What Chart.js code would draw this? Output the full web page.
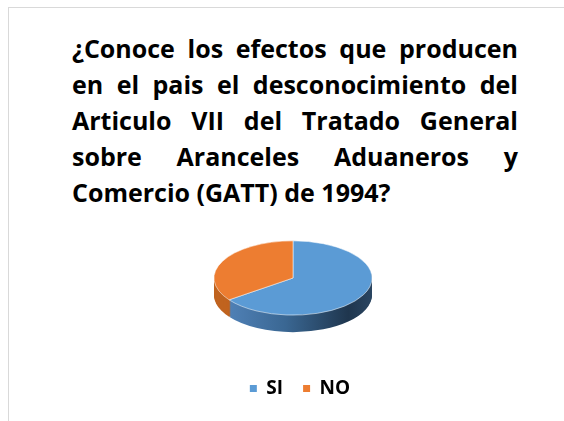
<!DOCTYPE html>
<html>
<head>
<meta charset="utf-8">
<script src="https://cdn.jsdelivr.net/npm/chart.js@4.4.1/dist/chart.umd.min.js"></script>
<style>
  html, body { margin: 0; padding: 0; background: #fff; }
  #wrap { position: relative; width: 564px; height: 421px; overflow: hidden; }
  #frame { position: absolute; left: 8px; top: 7px; width: 700px; height: 600px;
           border-left: 1px solid #d9d9d9; border-top: 1px solid #d9d9d9; }
  #title { position: absolute; left: 72px; top: 30px; width: 446px; color: #000;
           font: bold 25px "Open Sans", sans-serif; line-height: 36px; }
  #title span { display: block; text-align: justify; text-align-last: justify; }
  #title span.last { text-align-last: left; white-space: nowrap; }
  #chart { position: absolute; left: 0; top: 0; }
</style>
</head>
<body>
<div id="wrap">
  <div id="frame"></div>
  <div id="title"></div>
  <canvas id="chart" width="564" height="421"></canvas>
</div>
<script>
const titleLines = [
  '¿Conoce los efectos que producen',
  'en el pais el desconocimiento del',
  'Articulo VII del Tratado General',
  'sobre Aranceles Aduaneros y',
  'Comercio (GATT) de 1994?',
];
const categories = ['SI', 'NO'];
const values = [65, 35];
const colors = ['#5B9BD5', '#ED7D31'];

// fake 3D: squash the pie and extrude a side band under it
const PIE_CX = 293, PIE_CY = 278, TILT = 0.47, DEPTH = 17;

const title = document.getElementById('title');
titleLines.forEach((t, i) => {
  const s = document.createElement('span');
  s.textContent = t;
  if (i === titleLines.length - 1) s.className = 'last';
  title.appendChild(s);
});

function project(ctx, arc, d) {
  ctx.translate(PIE_CX, PIE_CY + d);
  ctx.scale(1, TILT);
  ctx.translate(-arc.x, -arc.y);
}

const tiltPlugin = {
  id: 'tilt',
  beforeDatasetsDraw(chart) {
    const ctx = chart.ctx;
    const arcs = chart.getDatasetMeta(0).data;
    const a0 = arcs[0];
    const r = a0.outerRadius;
    const blueSide = ctx.createLinearGradient(a0.x - r, 0, a0.x + r, 0);
    blueSide.addColorStop(0, '#5587bf');
    blueSide.addColorStop(0.45, '#3a6793');
    blueSide.addColorStop(0.85, '#1f364e');
    blueSide.addColorStop(1, '#2a4561');
    const sideFill = [blueSide, '#c0631f'];
    for (let d = DEPTH; d >= 1; d--) {
      ctx.save();
      project(ctx, a0, d);
      arcs.forEach((arc, i) => {
        ctx.beginPath();
        ctx.moveTo(arc.x, arc.y);
        ctx.arc(arc.x, arc.y, arc.outerRadius, arc.startAngle, arc.endAngle);
        ctx.closePath();
        ctx.fillStyle = sideFill[i];
        ctx.fill();
      });
      ctx.restore();
    }
    ctx.save();
    project(ctx, a0, 0);
  },
  afterDatasetsDraw(chart) {
    chart.ctx.restore();
  },
};

new Chart(document.getElementById('chart'), {
  type: 'pie',
  data: {
    labels: categories,
    datasets: [{
      data: values,
      backgroundColor: colors,
      borderColor: 'rgba(255,255,255,0.7)',
      borderWidth: 1,
      radius: 79,
      clip: false,
    }],
  },
  options: {
    responsive: false,
    animation: false,
    events: [],
    layout: { padding: { top: 189, bottom: 13, left: 36, right: 0 } },
    plugins: {
      tooltip: { enabled: false },
      legend: {
        position: 'bottom',
        labels: {
          boxWidth: 7,
          boxHeight: 7,
          padding: 20,
          color: '#000',
          font: { family: 'Open Sans', size: 19, weight: 'bold' },
          generateLabels: (chart) =>
            Chart.overrides.pie.plugins.legend.labels.generateLabels(chart).map((l) => ({ ...l, lineWidth: 0 })),
        },
      },
    },
  },
  plugins: [tiltPlugin],
});
</script>
</body>
</html>
